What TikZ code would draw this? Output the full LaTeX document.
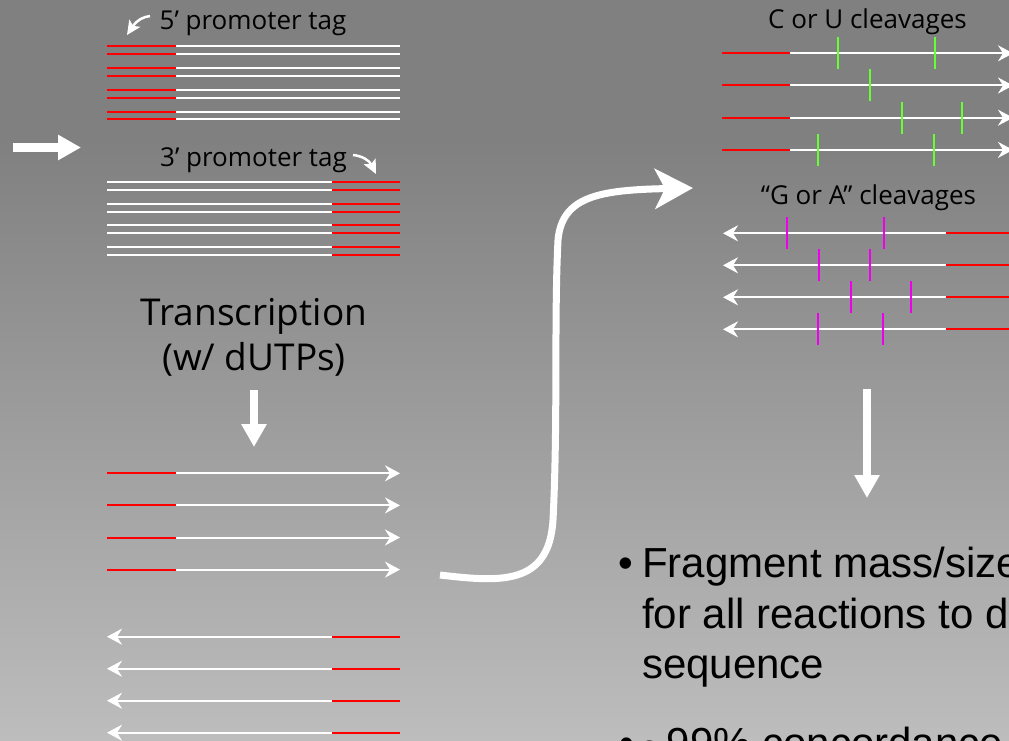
\documentclass[tikz,border=0pt]{standalone}
\usepackage{fontspec}
\setmainfont{Liberation Sans}
\newfontfamily\handfont{Open Sans}
\usetikzlibrary{arrows.meta}
\definecolor{bgtop}{RGB}{128,128,128}
\definecolor{bgbottom}{RGB}{189,189,189}
\definecolor{tagred}{RGB}{255,0,0}
\definecolor{cutgreen}{RGB}{102,255,51}
\definecolor{cutmagenta}{RGB}{238,0,238}

\begin{document}
\begin{tikzpicture}[x=1pt,y=-1pt,
  strand/.style={line width=2pt, line cap=butt},
  tagpart/.style={strand, draw=tagred},
  bodypart/.style={strand, draw=white},
  fwd/.style={-{Stealth[length=15pt,width=16pt,inset=5pt]}},
  rev/.style={{Stealth[length=15pt,width=16pt,inset=5pt]}-},
  tickG/.style={line width=2pt, draw=cutgreen},
  tickM/.style={line width=2pt, draw=cutmagenta},
  flow/.style={draw=white, line width=8.5pt, -{Triangle[length=23pt,width=24pt]}},
  pointer/.style={draw=white, line width=2.5pt, -{Stealth[length=14pt,width=13pt,inset=3pt]}},
  hand/.style={font=\handfont\fontsize{26}{30}\selectfont, text=black, inner sep=0pt, anchor=base},
  handbig/.style={font=\handfont\fontsize{37}{44}\selectfont, text=black, inner sep=0pt, anchor=base},
  bigtext/.style={font=\fontsize{42}{50}\selectfont, text=black, inner sep=0pt, anchor=base west},
  bulletmark/.style={font=\fontsize{42}{50}\selectfont, text=black, inner sep=0pt, anchor=base},
]
\useasboundingbox (0,0) rectangle (1009,741);
\clip (0,0) rectangle (1009,741);

% background: flat grey on top, lightening towards the bottom
\fill[bgtop] (0,0) rectangle (1009,141);
\shade[top color=bgtop, bottom color=bgbottom] (0,140) rectangle (1009,741);

% ---- double-stranded templates with 5' tags ----
\foreach \k in {0,1,2,3}{
  \pgfmathsetmacro{\ya}{46+21.9*\k}
  \pgfmathsetmacro{\yb}{53.8+21.9*\k}
  \draw[tagpart] (107,\ya) -- (176,\ya);
  \draw[bodypart] (176,\ya) -- (400,\ya);
  \draw[tagpart] (107,\yb) -- (176,\yb);
  \draw[bodypart] (176,\yb) -- (400,\yb);
}
% ---- double-stranded templates with 3' tags ----
\foreach \k in {0,1,2,3}{
  \pgfmathsetmacro{\ya}{181.7+21.8*\k}
  \pgfmathsetmacro{\yb}{189.7+21.8*\k}
  \draw[bodypart] (107,\ya) -- (332,\ya);
  \draw[tagpart] (332,\ya) -- (400,\ya);
  \draw[bodypart] (107,\yb) -- (332,\yb);
  \draw[tagpart] (332,\yb) -- (400,\yb);
}

\node[hand] (tagfive) at (253,30) {5’ promoter tag};
\node[hand] (tagthree) at (253.5,166) {3’ promoter tag};
\draw[pointer] (150,16) .. controls (143,17) and (137,20) .. (127,35);
\draw[pointer] (353,155) .. controls (362,156) and (369,160) .. (376,174);

% entry arrow
\coordinate (inA) at (13,147.5);
\coordinate (inB) at (81,147.5);
\draw[flow] (inA) -- (inB);

% transcription step
\node[handbig] (trans) at (254,325) {Transcription};
\node[handbig] (dutp) at (254,370) {(w/ dUTPs)};
\coordinate (tA) at (254,390);
\coordinate (tB) at (254,447);
\draw[flow] (tA) -- (tB);

% ---- transcripts ----
\foreach \k in {0,1,2,3}{
  \pgfmathsetmacro{\y}{473.3+32.1*\k}
  \draw[tagpart] (107,\y) -- (176,\y);
  \draw[bodypart, fwd] (176,\y) -- (400,\y);
}
\foreach \k in {0,1,2,3}{
  \pgfmathsetmacro{\y}{636.7+32*\k}
  \draw[bodypart, rev] (107,\y) -- (332,\y);
  \draw[tagpart] (332,\y) -- (400,\y);
}

% curved transfer arrow
\coordinate (cA) at (440,575);
\coordinate (cB) at (693,188);
\draw[draw=white, line width=7pt, -{Stealth[length=38pt,width=40pt,inset=10pt]}]
  (cA) .. controls (500,582) and (549,586) .. (553,520)
       .. controls (558,420) and (554,320) .. (558,240)
       .. controls (562,196) and (600,190) .. (cB);

% ---- C or U cleavage products ----
\node[hand] (cu) at (867.5,29) {C or U cleavages};
\foreach \k/\cuts in {0/{838,935}, 1/{870}, 2/{902,962}, 3/{818,934}}{
  \pgfmathsetmacro{\y}{53.3+32.2*\k}
  \draw[tagpart] (722,\y) -- (790,\y);
  \draw[bodypart, fwd] (790,\y) -- (1013,\y);
  \foreach \c in \cuts { \draw[tickG] (\c,\y-16) -- (\c,\y+16); }
}

% ---- G or A cleavage products ----
\node[hand] (ga) at (868.5,204) {“G or A” cleavages};
\foreach \k/\cuts in {0/{787,884}, 1/{819,870}, 2/{851,911}, 3/{818,883}}{
  \pgfmathsetmacro{\y}{233.3+32*\k}
  \draw[bodypart, rev] (723,\y) -- (946,\y);
  \draw[tagpart] (946,\y) -- (1015,\y);
  \foreach \c in \cuts { \draw[tickM] (\c,\y-16) -- (\c,\y+16); }
}

% analysis step
\coordinate (aA) at (867,389);
\coordinate (aB) at (867,498);
\draw[flow] (aA) -- (aB);

\node[bulletmark] (dotone) at (625.5,577) {•};
\node[bigtext] (lineone) at (642,577) {Fragment mass/size};
\node[bigtext] (linetwo) at (642,628) {for all reactions to d};
\node[bigtext] (linethree) at (642,678) {sequence};
\node[bulletmark] (dottwo) at (627,757) {•};
\node[bigtext] (linefour) at (642,757) {\textasciitilde99\% concordance};
\end{tikzpicture}
\end{document}
